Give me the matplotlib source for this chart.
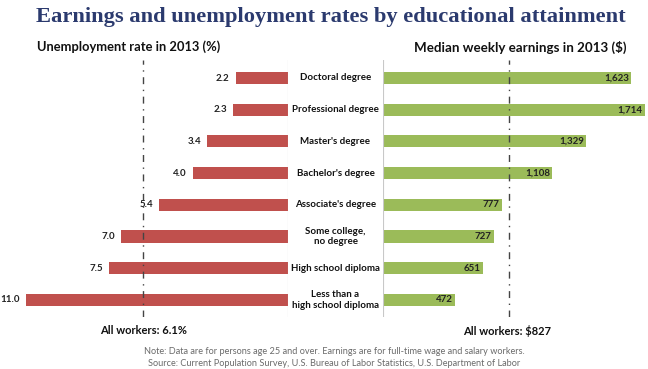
import matplotlib
matplotlib.use("Agg")
import matplotlib.pyplot as plt

categories = ["Doctoral degree", "Professional degree", "Master's degree", "Bachelor's degree",
              "Associate's degree", "Some college,\nno degree", "High school diploma",
              "Less than a\nhigh school diploma"]
unemployment = [2.2, 2.3, 3.4, 4.0, 5.4, 7.0, 7.5, 11.0]
earnings = [1623, 1714, 1329, 1108, 777, 727, 651, 472]
unemp_labels = ["2.2", "2.3", "3.4", "4.0", "5.4", "7.0", "7.5", "11.0"]
earn_labels = ["1,623", "1,714", "1,329", "1,108", "777", "727", "651", "472"]
all_unemp = 6.1
all_earn = 827

W, H = 648, 369
fig = plt.figure(figsize=(W / 100, H / 100), dpi=100)
fig.patch.set_facecolor("white")

SANS = ["Lato", "DejaVu Sans"]
red = "#c0504d"
green = "#9bbb59"
navy = "#2b3a6e"

def fx(px):
    return px / W

def fy(py):
    return 1 - py / H

top, bot = 60, 317
axl = fig.add_axes([fx(20), fy(bot), fx(288 - 20), (bot - top) / H])
axr = fig.add_axes([fx(383), fy(bot), fx(W - 383), (bot - top) / H])

ys = list(range(len(categories)))
for ax in (axl, axr):
    ax.set_ylim(7.54, -0.57)
    ax.set_facecolor("none")
    for s in ax.spines.values():
        s.set_visible(False)
    ax.set_xticks([])
    ax.set_yticks([])

axl.set_xlim(11.26, 0)
axr.set_xlim(0, 1733)

axl.barh(ys, unemployment, height=0.38, color=red)
axr.barh(ys, earnings, height=0.38, color=green)

axl.axvline(0, color="#c8c8c8", lw=0.8)
axr.axvline(0, color="#c8c8c8", lw=0.8)
axl.axvline(all_unemp, color="#444444", lw=1.0, ls=(0, (5, 4, 1, 4)))
axr.axvline(all_earn, color="#444444", lw=1.0, ls=(0, (5, 4, 1, 4)))

for y, v, lab in zip(ys, unemployment, unemp_labels):
    axl.text(v + 0.25, y, lab, ha="right", va="center", fontsize=7,
             fontweight="bold", color="#222222", family=SANS)
for y, v, lab in zip(ys, earnings, earn_labels):
    axr.text(v - 15, y, lab, ha="right", va="center", fontsize=7,
             fontweight="bold", color="#222222", family=SANS)

for y, c in zip(ys, categories):
    fig.text(fx(335.5), fy(78 + y * 31.7), c, ha="center", va="center", fontsize=7,
             fontweight="bold", color="#111111", family=SANS, linespacing=1.25)

fig.text(fx(331), fy(17), "Earnings and unemployment rates by educational attainment",
         ha="center", va="center", fontsize=16.2, fontweight="bold", color=navy,
         family=["Liberation Serif", "DejaVu Serif"])
fig.text(fx(37), fy(47), "Unemployment rate in 2013 (%)", ha="left", va="center",
         fontsize=9.3, fontweight="bold", color="#111111", family=SANS)
fig.text(fx(627), fy(47), "Median weekly earnings in 2013 ($)", ha="right", va="center",
         fontsize=9.6, fontweight="bold", color="#111111", family=SANS)

fig.text(fx(143), fy(330), "All workers: 6.1%", ha="center", va="center",
         fontsize=8, fontweight="bold", color="#111111", family=SANS)
fig.text(fx(507), fy(331), "All workers: $827", ha="center", va="center",
         fontsize=8, fontweight="bold", color="#111111", family=SANS)

fig.text(fx(334), fy(351), "Note: Data are for persons age 25 and over. Earnings are for full-time wage and salary workers.",
         ha="center", va="center", fontsize=6.6, color="#6a6a6a", family=SANS)
fig.text(fx(334), fy(363), "Source: Current Population Survey, U.S. Bureau of Labor Statistics, U.S. Department of Labor",
         ha="center", va="center", fontsize=6.6, color="#6a6a6a", family=SANS)

fig.savefig("out.png", dpi=100, facecolor="white")
